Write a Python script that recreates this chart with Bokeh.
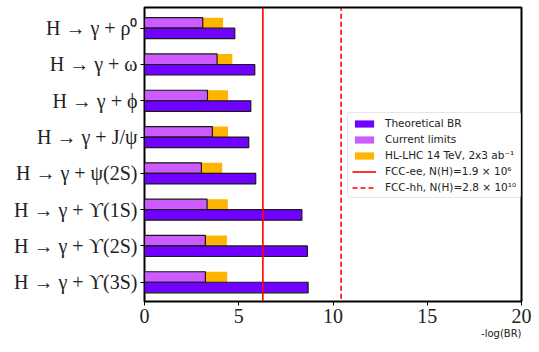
from bokeh.plotting import figure
from bokeh.models import Range1d, FixedTicker, Legend, LegendItem, Title, LinearAxis
from bokeh.embed import file_html
from bokeh.resources import INLINE

# ---- data ----
decays = ["H → γ + ρ⁰", "H → γ + ω", "H → γ + ϕ", "H → γ + J/ψ",
          "H → γ + ψ(2S)", "H → γ + ϒ(1S)", "H → γ + ϒ(2S)", "H → γ + ϒ(3S)"]
theoretical = [4.79, 5.85, 5.64, 5.53, 5.90, 8.35, 8.64, 8.68]
current_limits = [3.09, 3.85, 3.34, 3.60, 3.02, 3.32, 3.23, 3.23]
hl_lhc = [4.17, 4.66, 4.43, 4.43, 4.12, 4.42, 4.37, 4.39]
fcc_ee = 6.28
fcc_hh = 10.43
x_ticks = [0, 5, 10, 15, 20]
legend_labels = ["Theoretical BR", "Current limits", "HL-LHC 14 TeV, 2x3 ab⁻¹",
                 "FCC-ee, N(H)=1.9 × 10⁶", "FCC-hh, N(H)=2.8 × 10¹⁰"]

n = len(decays)
ypos = [n - 1 - i for i in range(n)]
bh = 0.29
upper = [y + bh / 2 for y in ypos]
lower = [y - bh / 2 for y in ypos]
y_lo, y_hi = -0.53, 7.57

C_THEO = "#7000ff"
C_CUR = "#cc5cff"
C_HL = "#ffb400"
EDGE = "#1a1a1a"

p = figure(width=539, height=352, output_backend="svg", toolbar_location=None,
           x_range=Range1d(x_ticks[0], x_ticks[-1]), y_range=Range1d(y_lo, y_hi),
           min_border_left=144, min_border_right=18, min_border_top=7,
           min_border_bottom=51)
p.title.visible = False
p.xgrid.visible = False
p.ygrid.visible = False
p.outline_line_color = "black"
p.outline_line_width = 2
p.background_fill_color = "white"

r_hl = p.hbar(y=upper, left=0, right=hl_lhc, height=bh, fill_color=C_HL, line_color=None)
r_cur = p.hbar(y=upper, left=0, right=current_limits, height=bh, fill_color=C_CUR, line_color=None)
p.hbar(y=upper, left=0, right=current_limits, height=bh, fill_alpha=0, line_color=EDGE, line_width=1.2)
r_theo = p.hbar(y=lower, left=0, right=theoretical, height=bh, fill_color=C_THEO, line_color=None)
p.hbar(y=lower, left=0, right=theoretical, height=bh, fill_alpha=0, line_color=EDGE, line_width=1.2)

r_ee = p.line(x=[fcc_ee, fcc_ee], y=[-2, 10], line_color="#ff0000", line_width=1.6)
r_hh = p.line(x=[fcc_hh, fcc_hh], y=[-2, 10], line_color="#ff0000", line_width=1.6,
              line_dash="5 3")

legend = Legend(items=[
    LegendItem(label=legend_labels[0], renderers=[r_theo]),
    LegendItem(label=legend_labels[1], renderers=[r_cur]),
    LegendItem(label=legend_labels[2], renderers=[r_hl]),
    LegendItem(label=legend_labels[3], renderers=[r_ee]),
    LegendItem(label=legend_labels[4], renderers=[r_hh]),
], location=(203, 103))
legend.label_text_font = "DejaVu Sans"
legend.label_text_font_size = "10.5px"
legend.label_text_color = "#222222"
legend.glyph_width = 24
legend.glyph_height = 9
legend.label_height = 12
legend.spacing = 4
legend.padding = 4
legend.margin = 0
legend.label_standoff = 9
legend.border_line_color = "#cccccc"
legend.border_line_width = 1
legend.border_radius = 3
legend.background_fill_alpha = 0.8
p.add_layout(legend)

# axes
p.xaxis.ticker = FixedTicker(ticks=x_ticks)
p.xaxis.minor_tick_line_color = None
p.xaxis.major_label_text_font = "Liberation Serif"
p.xaxis.major_label_text_font_size = "20px"
p.xaxis.major_label_text_color = "#222222"
p.xaxis.major_tick_out = 4
p.xaxis.major_tick_in = 0
p.xaxis.major_label_standoff = 3
p.xaxis.axis_line_color = "black"

p.yaxis.ticker = FixedTicker(ticks=ypos)
p.yaxis.major_label_overrides = {y: d for y, d in zip(ypos, decays)}
p.yaxis.minor_tick_line_color = None
p.yaxis.major_label_text_font = "Liberation Serif"
p.yaxis.major_label_text_font_size = "20px"
p.yaxis.major_label_text_color = "#222222"
p.yaxis.major_tick_out = 4
p.yaxis.major_tick_in = 0
p.yaxis.major_label_standoff = 3
p.yaxis.axis_line_color = "black"

# plain frame lines on top and right (axes without ticks or labels)
for side, ticks in (("above", x_ticks), ("right", ypos)):
    ax = LinearAxis(ticker=FixedTicker(ticks=ticks), axis_line_color="black",
                    axis_line_width=1,
                    major_tick_line_color=None, minor_tick_line_color=None,
                    major_tick_out=0, major_tick_in=0,
                    major_label_text_alpha=0, major_label_text_font_size="1px",
                    major_label_standoff=0)
    p.add_layout(ax, side)

p.add_layout(Title(text="-log(BR)", align="right", text_font="DejaVu Sans",
                   text_font_size="10px", text_font_style="normal",
                   text_color="#222222", standoff=0), "below")

open("out.html", "w").write(file_html(p, INLINE))
